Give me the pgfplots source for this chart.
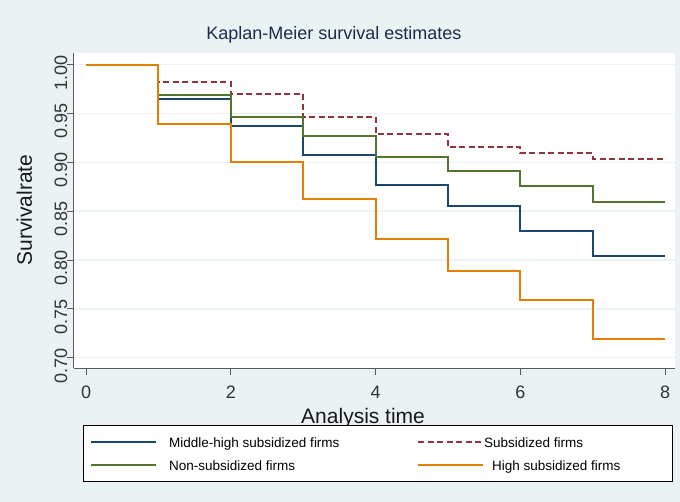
\documentclass[border=0pt]{standalone}
\usepackage{pgfplots}
\pgfplotsset{compat=1.18}
\usepackage{fontspec}
\setmainfont{Liberation Sans}
\definecolor{bgc}{RGB}{234,242,243}
\definecolor{gridc}{RGB}{234,242,243}
\definecolor{axisg}{RGB}{90,90,90}
\definecolor{snavy}{RGB}{26,71,111}
\definecolor{smaroon}{RGB}{144,53,59}
\definecolor{sgreen}{RGB}{85,117,47}
\definecolor{sorange}{RGB}{227,126,0}
\definecolor{titlec}{RGB}{30,42,78}
\begin{document}
\begin{tikzpicture}
\fill[bgc] (-74bp,-133.7bp) rectangle (606bp,368.3bp);
\begin{axis}[
  at={(0,0)}, anchor=south west,
  scale only axis, width=601bp, height=315bp,
  xmin=-0.166, xmax=8.138, ymin=0.6892, ymax=1.0115,
  axis x line*=bottom, axis y line*=left,
  axis line style={color=axisg, line width=1bp},
  axis background/.style={fill=white},
  ymajorgrids, grid style={color=gridc, line width=1.4bp},
  xtick={0,2,4,6,8},
  ytick={0.70,0.75,0.80,0.85,0.90,0.95,1.00},
  tick align=outside, major tick length=6.5bp,
  tick style={color=axisg, line width=1bp},
  /pgf/number format/assume math mode=true,
  yticklabel style={/pgf/number format/fixed, /pgf/number format/fixed zerofill, /pgf/number format/precision=2,
     rotate=90, anchor=south, inner sep=0pt, xshift=-8bp, font=\fontsize{18bp}{20bp}\selectfont, color=black!80},
  xticklabel style={anchor=north, inner sep=0pt, yshift=-11bp, font=\fontsize{18bp}{20bp}\selectfont, color=black!80},
  title={Kaplan-Meier survival estimates},
  title style={at={(axis description cs:0.4326,1.0241)}, anchor=base, inner sep=0pt, font=\fontsize{18bp}{20bp}\selectfont, color=titlec},
  xlabel={Analysis time},
  xlabel style={at={(axis description cs:0.481,-0.1737)}, anchor=base, inner sep=0pt, font=\fontsize{21bp}{24bp}\selectfont, color=black!90},
  ylabel={Survivalrate},
  ylabel style={at={(axis description cs:-0.0824,0.5025)}, rotate=0, anchor=center, inner sep=0pt, font=\fontsize{21bp}{24bp}\selectfont, color=black!90},
  legend columns=2,
  legend image code/.code={\draw[#1, line width=1.8bp] (0bp,0bp) -- (65bp,0bp);},
  legend style={at={(axis description cs:0.0150,-0.1800)}, anchor=north west,
     draw=black, line width=0.8bp, fill=white, inner xsep=7bp, inner ysep=6bp,
     column sep=0pt, row sep=2bp,
     nodes={inner sep=0pt, text height=16bp, text depth=5bp},
     font=\fontsize{13.5bp}{15bp}\selectfont},
  legend cell align=left,
]
\addplot[const plot, color=snavy, line width=2bp] coordinates {
(0,1.0) (1,0.9650) (2,0.9371) (3,0.9077) (4,0.8767) (5,0.8552) (6,0.8299) (7,0.8037) (8,0.8037)};
\addlegendentry{\hspace{12bp}\makebox[248bp][l]{Middle-high subsidized firms}}
\addplot[const plot, color=smaroon, line width=2bp, dash pattern=on 6bp off 3.5bp] coordinates {
(0,1.0) (1,0.9818) (2,0.9698) (3,0.9463) (4,0.9289) (5,0.9153) (6,0.9091) (7,0.9036) (8,0.9036)};
\addlegendentry{\makebox[181bp][l]{Subsidized firms}}
\addplot[const plot, color=sgreen, line width=2bp] coordinates {
(0,1.0) (1,0.9691) (2,0.9466) (3,0.9268) (4,0.9054) (5,0.8913) (6,0.8757) (7,0.8596) (8,0.8596)};
\addlegendentry{\hspace{12bp}\makebox[248bp][l]{Non-subsidized firms}}
\addplot[const plot, color=sorange, line width=2bp] coordinates {
(0,1.0) (1,0.9394) (2,0.9002) (3,0.8621) (4,0.8211) (5,0.7887) (6,0.7590) (7,0.7194) (8,0.7194)};
\addlegendentry{\makebox[181bp][l]{\hspace{8bp}High subsidized firms}}
\end{axis}
\end{tikzpicture}
\end{document}
